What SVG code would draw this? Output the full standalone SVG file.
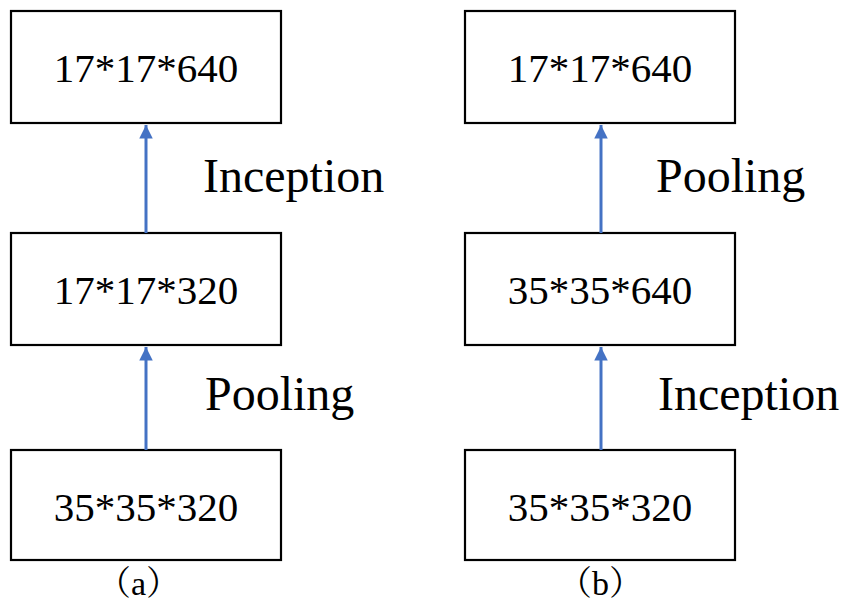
<svg xmlns="http://www.w3.org/2000/svg" width="842" height="603" viewBox="0 0 842 603">
  <style>
    .box rect { fill: #ffffff; stroke: #000000; stroke-width: 2.2; }
    .conn { stroke: #4472C4; stroke-width: 3; fill: none; }
  </style>
  <defs>
    <marker id="arrow" viewBox="0 0 10 10" refX="10" refY="5" markerWidth="5" markerHeight="4.5" orient="auto" markerUnits="strokeWidth">
      <path d="M0,0 L10,5 L0,10 Z" fill="#4472C4"/>
    </marker>
  </defs>
  <rect width="842" height="603" fill="#ffffff"/>

  <g font-family="'Liberation Serif', 'Times New Roman', serif" fill="#000000">
    <!-- column (a) -->
    <g id="a-top" class="box" font-size="41" text-anchor="middle"><rect x="11" y="11" width="270" height="112"/><text x="146" y="82">17*17*640</text></g>
    <g id="a-mid" class="box" font-size="41" text-anchor="middle"><rect x="11" y="233" width="270" height="112"/><text x="146" y="304">17*17*320</text></g>
    <g id="a-bot" class="box" font-size="41" text-anchor="middle"><rect x="11" y="450" width="270" height="110"/><text x="146" y="521">35*35*320</text></g>

    <!-- column (b) -->
    <g id="b-top" class="box" font-size="41" text-anchor="middle"><rect x="465" y="11" width="270" height="112"/><text x="600" y="82">17*17*640</text></g>
    <g id="b-mid" class="box" font-size="41" text-anchor="middle"><rect x="465" y="233" width="270" height="112"/><text x="600" y="304">35*35*640</text></g>
    <g id="b-bot" class="box" font-size="41" text-anchor="middle"><rect x="465" y="450" width="270" height="110"/><text x="600" y="521">35*35*320</text></g>

    <g id="connectors">
      <line class="conn" x1="146" y1="233" x2="146" y2="125" marker-end="url(#arrow)"/>
      <line class="conn" x1="146" y1="450" x2="146" y2="347" marker-end="url(#arrow)"/>
      <line class="conn" x1="601" y1="233" x2="601" y2="125" marker-end="url(#arrow)"/>
      <line class="conn" x1="601" y1="450" x2="601" y2="347" marker-end="url(#arrow)"/>
    </g>

    <g id="labels" font-size="48">
      <text x="203" y="192">Inception</text>
      <text x="205" y="410">Pooling</text>
      <text x="656" y="192">Pooling</text>
      <text x="658" y="410">Inception</text>
    </g>

    <g id="captions" font-family="'Liberation Serif', 'Noto Serif CJK SC', 'Noto Sans CJK SC', serif" font-size="34">
      <text x="97" y="595">（a）</text>
      <text x="558" y="595">（b）</text>
    </g>
  </g>
</svg>
